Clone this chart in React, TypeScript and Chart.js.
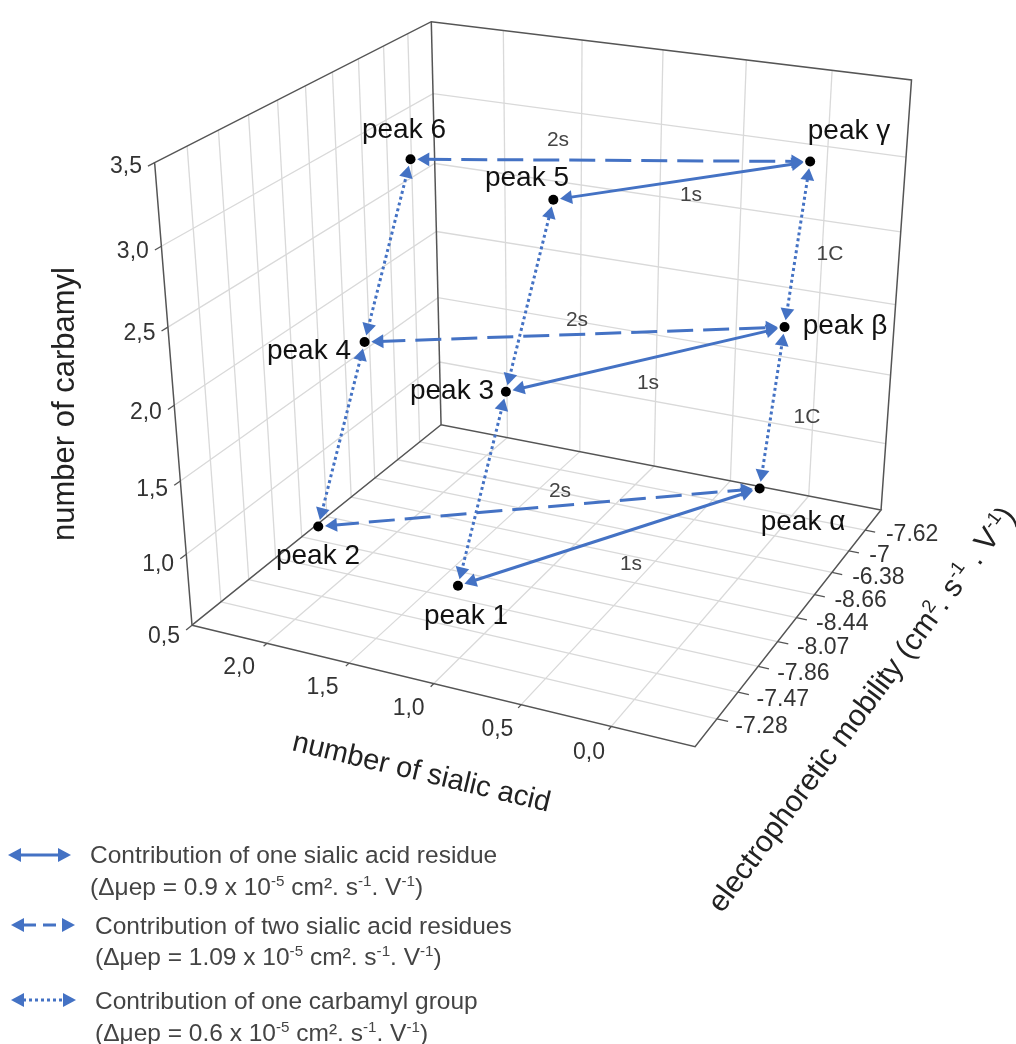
import React, { useEffect, useRef } from "react";
import { Chart, registerables } from "chart.js";

Chart.register(...registerables);

// ---------- data ----------
const sialicTicks = [2.0, 1.5, 1.0, 0.5, 0.0];
const carbamylTicks = [0.5, 1.0, 1.5, 2.0, 2.5, 3.0, 3.5];
const mobilityLabels = ["-7.28", "-7.47", "-7.86", "-8.07", "-8.44", "-8.66", "-6.38", "-7", "-7.62"];

const peakNames = ["peak 1", "peak 2", "peak α", "peak 3", "peak 4", "peak β", "peak 5", "peak 6", "peak γ"];
const peakSialic = [1, 2, 0, 1, 2, 0, 1, 2, 0];
const peakCarbamyl = [1, 1, 1, 2, 2, 2, 3, 3, 3];
const peakMobility = ["-7.28", "-7.47", "-6.38", "-7.86", "-8.07", "-7", "-8.44", "-8.66", "-7.62"];

const solidArrows = [["peak 1", "peak α"], ["peak 3", "peak β"], ["peak 5", "peak γ"]];
const dashedArrows = [["peak 2", "peak α"], ["peak 4", "peak β"], ["peak 6", "peak γ"]];
const dottedArrows = [
  ["peak 1", "peak 3"], ["peak 3", "peak 5"],
  ["peak 2", "peak 4"], ["peak 4", "peak 6"],
  ["peak α", "peak β"], ["peak β", "peak γ"],
];

// ---------- axis box and camera fit ----------
const U_MIN = -0.45, U_MAX = 2.47, M_MIN = 0, M_MAX = 10, W_MIN = 0.5, W_MAX = 3.5;
const corners: [number, number, number, number, number][] = [
  [U_MAX, M_MIN, W_MIN, 187, 627],
  [U_MAX, M_MIN, W_MAX, 149, 157],
  [U_MAX, M_MAX, W_MIN, 440, 423],
  [U_MAX, M_MAX, W_MAX, 430, 14],
  [U_MIN, M_MAX, W_MIN, 887, 510],
  [U_MIN, M_MAX, W_MAX, 918, 73],
  [U_MIN, M_MIN, W_MIN, 698, 750],
];
const nu = (u: number) => (u - U_MIN) / (U_MAX - U_MIN);
const nm = (m: number) => (m - M_MIN) / (M_MAX - M_MIN);
const nw = (w: number) => (w - W_MIN) / (W_MAX - W_MIN);

function fitCamera(): number[] {
  const rows: number[][] = [];
  const rhs: number[] = [];
  for (const [u, m, w, px, py] of corners) {
    const X = nu(u), Y = nm(m), Z = nw(w), x = px / 1000, y = py / 1000;
    rows.push([X, Y, Z, 1, 0, 0, 0, 0, -x * X, -x * Y, -x * Z]); rhs.push(x);
    rows.push([0, 0, 0, 0, X, Y, Z, 1, -y * X, -y * Y, -y * Z]); rhs.push(y);
  }
  const n = 11;
  const A: number[][] = [];
  for (let i = 0; i < n; i++) {
    A.push(new Array(n + 1).fill(0));
    for (let j = 0; j < n; j++) for (let r = 0; r < rows.length; r++) A[i][j] += rows[r][i] * rows[r][j];
    for (let r = 0; r < rows.length; r++) A[i][n] += rows[r][i] * rhs[r];
  }
  for (let c = 0; c < n; c++) {
    let piv = c;
    for (let r = c + 1; r < n; r++) if (Math.abs(A[r][c]) > Math.abs(A[piv][c])) piv = r;
    [A[c], A[piv]] = [A[piv], A[c]];
    for (let r = 0; r < n; r++) {
      if (r === c) continue;
      const f = A[r][c] / A[c][c];
      for (let k = c; k <= n; k++) A[r][k] -= f * A[c][k];
    }
  }
  return A.map((row, i) => row[n] / row[i]);
}
const P = fitCamera();
function project(u: number, m: number, w: number) {
  const X = nu(u), Y = nm(m), Z = nw(w);
  const d = P[8] * X + P[9] * Y + P[10] * Z + 1;
  return {
    x: (1000 * (P[0] * X + P[1] * Y + P[2] * Z + P[3])) / d,
    y: (1000 * (P[4] * X + P[5] * Y + P[6] * Z + P[7])) / d,
  };
}

// ---------- style ----------
const GRID = "#d9d9d9";
const FRAME = "#555555";
const ARROW = "#4472c4";
const FONT = '"Liberation Sans", Arial, sans-serif';
const TICK_COLOR = "#333333";
const NOTE_COLOR = "#444444";

const lineDs = (pts: { x: number; y: number }[], color: string, width: number, order: number) => ({
  type: "scatter" as const,
  data: pts,
  showLine: true,
  borderColor: color,
  borderWidth: width,
  pointRadius: 0,
  order,
  clip: false as const,
});

function gridDatasets() {
  const out: any[] = [];
  const mobIdx = mobilityLabels.map((_, i) => i + 1);
  for (const u of sialicTicks) {
    out.push(lineDs([project(u, M_MIN, W_MIN), project(u, M_MAX, W_MIN)], GRID, 1.3, 20));
    out.push(lineDs([project(u, M_MAX, W_MIN), project(u, M_MAX, W_MAX)], GRID, 1.3, 20));
    out.push(lineDs([project(u, M_MIN, W_MIN), project(u, -0.12, W_MIN)], FRAME, 1.3, 19));
  }
  for (const m of mobIdx) {
    out.push(lineDs([project(U_MIN, m, W_MIN), project(U_MAX, m, W_MIN)], GRID, 1.3, 20));
    out.push(lineDs([project(U_MAX, m, W_MIN), project(U_MAX, m, W_MAX)], GRID, 1.3, 20));
    out.push(lineDs([project(U_MIN, m, W_MIN), project(U_MIN - 0.06, m, W_MIN)], FRAME, 1.3, 19));
  }
  for (const w of carbamylTicks) {
    if (w > W_MIN && w < W_MAX) {
      out.push(lineDs([project(U_MAX, M_MIN, w), project(U_MAX, M_MAX, w), project(U_MIN, M_MAX, w)], GRID, 1.3, 20));
    }
    out.push(lineDs([project(U_MAX, M_MIN, w), project(U_MAX, -0.2, w)], FRAME, 1.3, 19));
  }
  const frame = [
    [[U_MAX, M_MIN, W_MIN], [U_MAX, M_MIN, W_MAX], [U_MAX, M_MAX, W_MAX], [U_MIN, M_MAX, W_MAX], [U_MIN, M_MAX, W_MIN]],
    [[U_MAX, M_MAX, W_MIN], [U_MAX, M_MAX, W_MAX]],
    [[U_MAX, M_MIN, W_MIN], [U_MAX, M_MAX, W_MIN], [U_MIN, M_MAX, W_MIN], [U_MIN, M_MIN, W_MIN], [U_MAX, M_MIN, W_MIN]],
  ];
  for (const f of frame) out.push(lineDs(f.map(([u, m, w]) => project(u, m, w)), FRAME, 1.5, 18));
  return out;
}

function peakPoint(name: string) {
  const i = peakNames.indexOf(name);
  return project(peakSialic[i], mobilityLabels.indexOf(peakMobility[i]) + 1, peakCarbamyl[i]);
}

const HEAD = 8;
const GAP = 3;
function arrowDs(pair: string[], dash: number[], width: number) {
  const a = peakPoint(pair[0]);
  const b = peakPoint(pair[1]);
  const dx = b.x - a.x, dy = b.y - a.y;
  const len = Math.hypot(dx, dy);
  const ux = dx / len, uy = dy / len;
  const off = GAP + 4 + HEAD;
  const start = { x: a.x + ux * off, y: a.y + uy * off };
  const end = { x: b.x - ux * off, y: b.y - uy * off };
  const rot = (Math.atan2(dy, dx) * 180) / Math.PI + 90;
  return {
    type: "scatter" as const,
    data: [start, end],
    showLine: true,
    borderColor: ARROW,
    borderWidth: width,
    borderDash: dash,
    pointStyle: "triangle",
    pointRadius: HEAD,
    pointRotation: [rot + 180, rot],
    pointBackgroundColor: ARROW,
    pointBorderColor: ARROW,
    pointBorderWidth: 0,
    order: 5,
    clip: false as const,
  };
}

// ---------- text placement ----------
const peakLabelAt: Record<string, [number, number]> = {
  "peak 6": [404, 130], "peak 5": [527, 178], "peak γ": [849, 131],
  "peak β": [845, 326], "peak 4": [309, 351], "peak 3": [452, 391],
  "peak 2": [318, 556], "peak 1": [466, 616], "peak α": [803, 522],
};
const notes: [string, number, number][] = [
  ["2s", 558, 140], ["1s", 691, 195], ["1C", 830, 254], ["2s", 577, 320],
  ["1s", 648, 383], ["1C", 807, 417], ["2s", 560, 491], ["1s", 631, 564],
];

type Run = [string, boolean?];
function drawRuns(ctx: CanvasRenderingContext2D, runs: Run[], x: number, y: number, size: number) {
  let cx = x;
  for (const [t, sup] of runs) {
    const s = sup ? size * 0.62 : size;
    ctx.font = `${s}px ${FONT}`;
    ctx.fillText(t, cx, sup ? y - size * 0.36 : y);
    cx += ctx.measureText(t).width;
  }
}

const legendRows: { dash: number[]; y: number; x0: number; x1: number; tx: number; l1: string; l1y: number; l2: Run[]; l2y: number }[] = [
  { dash: [], y: 855, x0: 8, x1: 71, tx: 90, l1: "Contribution of one sialic acid residue", l1y: 863,
    l2: [["(Δμep = 0.9 x 10"], ["-5", true], [" cm². s"], ["-1", true], [". V"], ["-1", true], [")"]], l2y: 895 },
  { dash: [13, 7], y: 925, x0: 11, x1: 75, tx: 95, l1: "Contribution of two sialic acid residues", l1y: 934,
    l2: [["(Δμep = 1.09 x 10"], ["-5", true], [" cm². s"], ["-1", true], [". V"], ["-1", true], [")"]], l2y: 965 },
  { dash: [3, 3], y: 1000, x0: 11, x1: 76, tx: 95, l1: "Contribution of one carbamyl group", l1y: 1009,
    l2: [["(Δμep = 0.6 x 10"], ["-5", true], [" cm². s"], ["-1", true], [". V"], ["-1", true], [")"]], l2y: 1041 },
];

const textPlugin = {
  id: "texts",
  afterDatasetsDraw(chart: any) {
    const ctx: CanvasRenderingContext2D = chart.ctx;
    ctx.save();
    ctx.textBaseline = "alphabetic";

    // axis tick labels
    ctx.fillStyle = TICK_COLOR;
    ctx.font = `23px ${FONT}`;
    ctx.textAlign = "right";
    for (const w of carbamylTicks) {
      const p = project(U_MAX, M_MIN, w);
      ctx.fillText(w.toFixed(1).replace(".", ","), p.x - 7, p.y + 16);
    }
    ctx.textAlign = "center";
    for (const u of sialicTicks) {
      const p = project(u, M_MIN, W_MIN);
      ctx.fillText(u.toFixed(1).replace(".", ","), p.x - 24, p.y + 29);
    }
    ctx.textAlign = "left";
    mobilityLabels.forEach((lab, i) => {
      const p = project(U_MIN, i + 1, W_MIN);
      ctx.fillText(lab, p.x + 15, p.y + 11);
    });

    // axis titles
    ctx.fillStyle = "#222222";
    ctx.font = `31px ${FONT}`;
    ctx.save();
    ctx.translate(74, 541);
    ctx.rotate(-Math.PI / 2);
    ctx.fillText("number of carbamyl", 0, 0);
    ctx.restore();
    ctx.save();
    ctx.font = `29px ${FONT}`;
    ctx.translate(291, 750);
    ctx.rotate((13.5 * Math.PI) / 180);
    ctx.fillText("number of sialic acid", 0, 0);
    ctx.restore();
    ctx.save();
    ctx.translate(722, 914);
    ctx.rotate((-53.5 * Math.PI) / 180);
    drawRuns(ctx, [["electrophoretic mobility (cm"], ["2", true], [". s"], ["-1", true], [" . V"], ["-1", true], [")"]], 0, 0, 30);
    ctx.restore();

    // peak labels
    ctx.fillStyle = "#111111";
    ctx.font = `28px ${FONT}`;
    ctx.textAlign = "center";
    ctx.textBaseline = "middle";
    for (const name of peakNames) {
      const [x, y] = peakLabelAt[name];
      ctx.fillText(name, x, y);
    }

    // arrow notes
    ctx.fillStyle = NOTE_COLOR;
    ctx.font = `21px ${FONT}`;
    for (const [t, x, y] of notes) ctx.fillText(t, x, y);

    // legend
    ctx.textAlign = "left";
    ctx.textBaseline = "alphabetic";
    for (const r of legendRows) {
      ctx.strokeStyle = ARROW;
      ctx.fillStyle = ARROW;
      ctx.lineWidth = 3;
      ctx.setLineDash(r.dash);
      ctx.beginPath();
      ctx.moveTo(r.x0 + 12, r.y);
      ctx.lineTo(r.x1 - 12, r.y);
      ctx.stroke();
      ctx.setLineDash([]);
      for (const [tip, dir] of [[r.x0, 1], [r.x1, -1]] as [number, number][]) {
        ctx.beginPath();
        ctx.moveTo(tip, r.y);
        ctx.lineTo(tip + dir * 13, r.y - 7);
        ctx.lineTo(tip + dir * 13, r.y + 7);
        ctx.closePath();
        ctx.fill();
      }
      ctx.fillStyle = NOTE_COLOR;
      ctx.font = `24.5px ${FONT}`;
      ctx.fillText(r.l1, r.tx, r.l1y);
      drawRuns(ctx, r.l2, r.tx, r.l2y, 24.5);
    }
    ctx.restore();
  },
};

export default function App() {
  const ref = useRef<HTMLCanvasElement | null>(null);
  useEffect(() => {
    document.body.style.margin = "0";
    const datasets: any[] = [
      ...gridDatasets(),
      ...solidArrows.map((p) => arrowDs(p, [], 3)),
      ...dashedArrows.map((p) => arrowDs(p, [26, 10], 3)),
      ...dottedArrows.map((p) => arrowDs(p, [3, 3], 3)),
      {
        type: "scatter" as const,
        data: peakNames.map(peakPoint),
        showLine: false,
        pointStyle: "circle",
        pointRadius: 5,
        pointBackgroundColor: "#000000",
        pointBorderWidth: 0,
        order: 1,
        clip: false as const,
      },
    ];
    const chart = new Chart(ref.current as HTMLCanvasElement, {
      type: "scatter",
      data: { datasets },
      options: {
        animation: false,
        responsive: false,
        devicePixelRatio: 1,
        layout: { padding: 0 },
        plugins: { legend: { display: false }, tooltip: { enabled: false } },
        scales: {
          x: { type: "linear", min: 0, max: 1016, display: false },
          y: { type: "linear", min: 0, max: 1044, reverse: true, display: false },
        },
      },
      plugins: [textPlugin],
    } as any);
    return () => chart.destroy();
  }, []);
  return (
    <div style={{ position: "absolute", left: 0, top: 0, width: 1016, height: 1044, background: "#ffffff" }}>
      <canvas ref={ref} width={1016} height={1044} style={{ display: "block" }} />
    </div>
  );
}
